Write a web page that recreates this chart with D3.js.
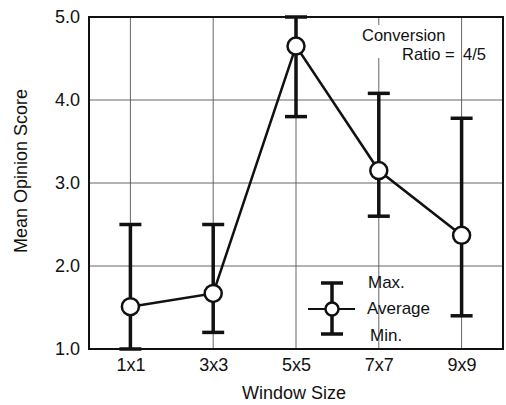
<!DOCTYPE html>
<html>
<head>
<meta charset="utf-8">
<script src="https://cdn.jsdelivr.net/npm/d3@7"></script>
<style>
  body { margin: 0; background: #fff; }
  text { font-family: "Liberation Sans", Arial, sans-serif; fill: #111; }
</style>
</head>
<body>
<svg id="chart" width="506" height="405"></svg>
<script>
const categories = ['1x1', '3x3', '5x5', '7x7', '9x9']
const avgScore = [1.51, 1.67, 4.65, 3.15, 2.37]
const maxScore = [2.5, 2.5, 5.0, 4.08, 3.78]
const minScore = [1.0, 1.2, 3.8, 2.6, 1.4]
const yTicks = [1.0, 2.0, 3.0, 4.0, 5.0]

const data = categories.map((c, i) => ({ cat: c, avg: avgScore[i], max: maxScore[i], min: minScore[i] }))

const margin = { left: 89, top: 17, right: 3, bottom: 56 }
const width = 506
const height = 405
const svg = d3.select('#chart')

const xScale = d3.scalePoint()
  .domain(categories)
  .range([margin.left, width - margin.right])
  .padding(0.5)

const yScale = d3.scaleLinear()
  .domain([1, 5])
  .range([height - margin.bottom, margin.top])

// grid
const grid = svg.append('g')
grid.selectAll('.vgrid')
  .data(categories)
  .enter().append('line')
  .attr('x1', d => xScale(d)).attr('x2', d => xScale(d))
  .attr('y1', yScale(5)).attr('y2', yScale(1))
  .style('stroke', '#555').style('stroke-width', 0.9)
grid.selectAll('.hgrid')
  .data(yTicks.slice(1, -1))
  .enter().append('line')
  .attr('x1', margin.left).attr('x2', width - margin.right)
  .attr('y1', d => yScale(d)).attr('y2', d => yScale(d))
  .style('stroke', '#555').style('stroke-width', 0.9)

// frame
svg.append('rect')
  .attr('x', margin.left).attr('y', margin.top)
  .attr('width', width - margin.right - margin.left)
  .attr('height', yScale(1) - yScale(5))
  .style('fill', 'none').style('stroke', '#111').style('stroke-width', 2)

const xAxis = d3.axisBottom(xScale).tickSize(0).tickPadding(9)
const yAxis = d3.axisLeft(yScale).tickValues(yTicks).tickSize(0).tickPadding(9)
  .tickFormat(d => d.toFixed(1))

svg.append('g')
  .attr('transform', `translate(0,${yScale(1)})`)
  .call(g => {
    g.call(xAxis)
    g.select('.domain').remove()
    g.selectAll('.tick text').style('font-size', '18px').style('font-family', '"Liberation Sans", Arial, sans-serif').style('fill', '#111')
  })

svg.append('g')
  .attr('transform', `translate(${margin.left},0)`)
  .call(g => {
    g.call(yAxis)
    g.select('.domain').remove()
    g.selectAll('.tick text').style('font-size', '18px').style('font-family', '"Liberation Sans", Arial, sans-serif').style('fill', '#111')
  })

svg.append('text')
  .attr('x', 294).attr('y', 399)
  .attr('text-anchor', 'middle').style('font-size', '18px')
  .text('Window Size')

svg.append('text')
  .attr('transform', `translate(27,171) rotate(-90)`)
  .attr('text-anchor', 'middle').style('font-size', '18px')
  .text('Mean Opinion Score')

// white patch behind annotation so the grid line breaks like the original
svg.append('rect').attr('x', 362).attr('y', 25).attr('width', 90).attr('height', 33).style('fill', '#fff')
svg.append('text').attr('x', 362).attr('y', 41).style('font-size', '16.5px').text('Conversion')
svg.append('text').attr('x', 402).attr('y', 60).style('font-size', '16.5px').text('Ratio =')
svg.append('text').attr('x', 463).attr('y', 60).style('font-size', '16.5px').text('4/5')

// error bars
const capW = 11
const bars = svg.append('g').selectAll('g').data(data).enter().append('g')
bars.append('line')
  .attr('x1', d => xScale(d.cat)).attr('x2', d => xScale(d.cat))
  .attr('y1', d => yScale(d.max)).attr('y2', d => yScale(d.min))
  .style('stroke', '#111').style('stroke-width', 3.5)
bars.append('line')
  .attr('x1', d => xScale(d.cat) - capW).attr('x2', d => xScale(d.cat) + capW)
  .attr('y1', d => yScale(d.max)).attr('y2', d => yScale(d.max))
  .style('stroke', '#111').style('stroke-width', 3.5)
bars.append('line')
  .attr('x1', d => xScale(d.cat) - capW).attr('x2', d => xScale(d.cat) + capW)
  .attr('y1', d => yScale(d.min)).attr('y2', d => yScale(d.min))
  .style('stroke', '#111').style('stroke-width', 3.5)

const line = d3.line()
  .x(d => xScale(d.cat))
  .y(d => yScale(d.avg))

svg.append('path')
  .datum(data)
  .attr('d', line)
  .style('fill', 'none').style('stroke', '#111').style('stroke-width', 2.5)

svg.append('g').selectAll('circle').data(data).enter().append('circle')
  .attr('cx', d => xScale(d.cat)).attr('cy', d => yScale(d.avg)).attr('r', 8.5)
  .style('fill', '#fff').style('stroke', '#111').style('stroke-width', 2.5)

// legend
const lx = 332
const lg = svg.append('g')
lg.append('line').attr('x1', lx).attr('x2', lx).attr('y1', 283).attr('y2', 334)
  .style('stroke', '#111').style('stroke-width', 3.5)
lg.append('line').attr('x1', lx - capW).attr('x2', lx + capW).attr('y1', 283).attr('y2', 283)
  .style('stroke', '#111').style('stroke-width', 3.5)
lg.append('line').attr('x1', lx - capW).attr('x2', lx + capW).attr('y1', 334).attr('y2', 334)
  .style('stroke', '#111').style('stroke-width', 3.5)
lg.append('line').attr('x1', 308).attr('x2', 355).attr('y1', 309).attr('y2', 309)
  .style('stroke', '#111').style('stroke-width', 2)
lg.append('circle').attr('cx', lx).attr('cy', 309).attr('r', 6.5)
  .style('fill', '#fff').style('stroke', '#111').style('stroke-width', 2.5)
lg.append('text').attr('x', 368).attr('y', 288).style('font-size', '17px').text('Max.')
lg.append('text').attr('x', 367).attr('y', 314).style('font-size', '17px').text('Average')
lg.append('text').attr('x', 370).attr('y', 341).style('font-size', '17px').text('Min.')
</script>
</body>
</html>
